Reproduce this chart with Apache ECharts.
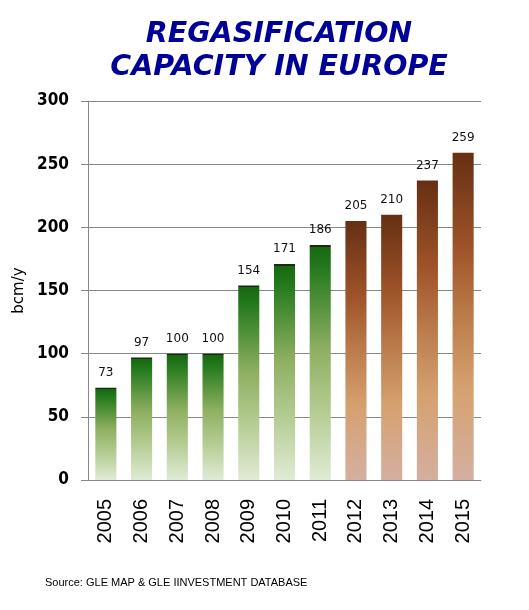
<!DOCTYPE html>
<html><head><meta charset="utf-8">
<script src="https://cdn.jsdelivr.net/npm/echarts@6/dist/echarts.min.js"></script>
<style>html,body{margin:0;padding:0;background:#fff}#c{width:529px;height:610px}</style>
</head><body><div id="c"></div>
<script>
const years = ['2005','2006','2007','2008','2009','2010','2011','2012','2013','2014','2015'];
const capacity = [73, 97, 100, 100, 154, 171, 186, 205, 210, 237, 259];
const firstForecastYear = '2012';
const yTicks = [0, 50, 100, 150, 200, 250, 300];

function greenGrad(v){
  const e = 1.6/(v*380/300);
  return new echarts.graphic.LinearGradient(0,0,0,1,[
    {offset:0,color:'#1a2a12'},{offset:e,color:'#1a2a12'},{offset:e+0.001,color:'#17680f'},
    {offset:0.1,color:'#257a1d'},{offset:0.45,color:'#8fb062'},
    {offset:0.7,color:'#b3cb90'},{offset:1,color:'#e0ebd5'}]);
}
const brown = new echarts.graphic.LinearGradient(0,0,0,1,[
  {offset:0,color:'#662f13'},{offset:0.3,color:'#a0552a'},{offset:0.5,color:'#bb7c4c'},
  {offset:0.72,color:'#d6a170'},{offset:1,color:'#d4afa0'}]);
const fIdx = years.indexOf(firstForecastYear);

const chart = echarts.init(document.getElementById('c'));
chart.setOption({
  animation:false,
  title:{text:'REGASIFICATION\nCAPACITY IN EUROPE',left:274,textAlign:'center',top:13,
    textStyle:{fontFamily:'DejaVu Sans',fontWeight:'bold',fontStyle:'italic',fontSize:28.5,color:'#000099',lineHeight:33}},
  graphic:[{type:'text',left:45,top:577,style:{text:'Source: GLE MAP & GLE IINVESTMENT DATABASE',
    font:'11px "Liberation Sans", Arial',fill:'#000'}}],
  grid:{left:88,right:48,top:101,bottom:130},
  xAxis:{type:'category',data:years,
    axisLine:{lineStyle:{color:'#888'}},axisTick:{show:false},
    axisLabel:{rotate:90,fontFamily:'Liberation Sans',fontSize:20,color:'#000',margin:19}},
  yAxis:{type:'value',min:yTicks[0],max:yTicks[yTicks.length-1],interval:50,
    name:'bcm/y',nameLocation:'middle',nameGap:60,nameTextStyle:{fontFamily:'DejaVu Sans',fontSize:15,color:'#000'},
    axisLine:{show:true,lineStyle:{color:'#888'}},axisTick:{show:true,length:7,lineStyle:{color:'#888'}},
    splitLine:{lineStyle:{color:'#888'}},
    axisLabel:{fontFamily:'DejaVu Sans Condensed, DejaVu Sans',fontWeight:'bold',fontSize:17,color:'#000',margin:19}},
  series:[{type:'bar',barWidth:'59%',
    data:capacity.map((v,i)=>({value:v,itemStyle:{color:i<fIdx?greenGrad(v):brown}})),
    label:{show:true,position:'top',distance:9,fontFamily:'DejaVu Sans',fontSize:12,color:'#111'}}]
});
</script></body></html>
